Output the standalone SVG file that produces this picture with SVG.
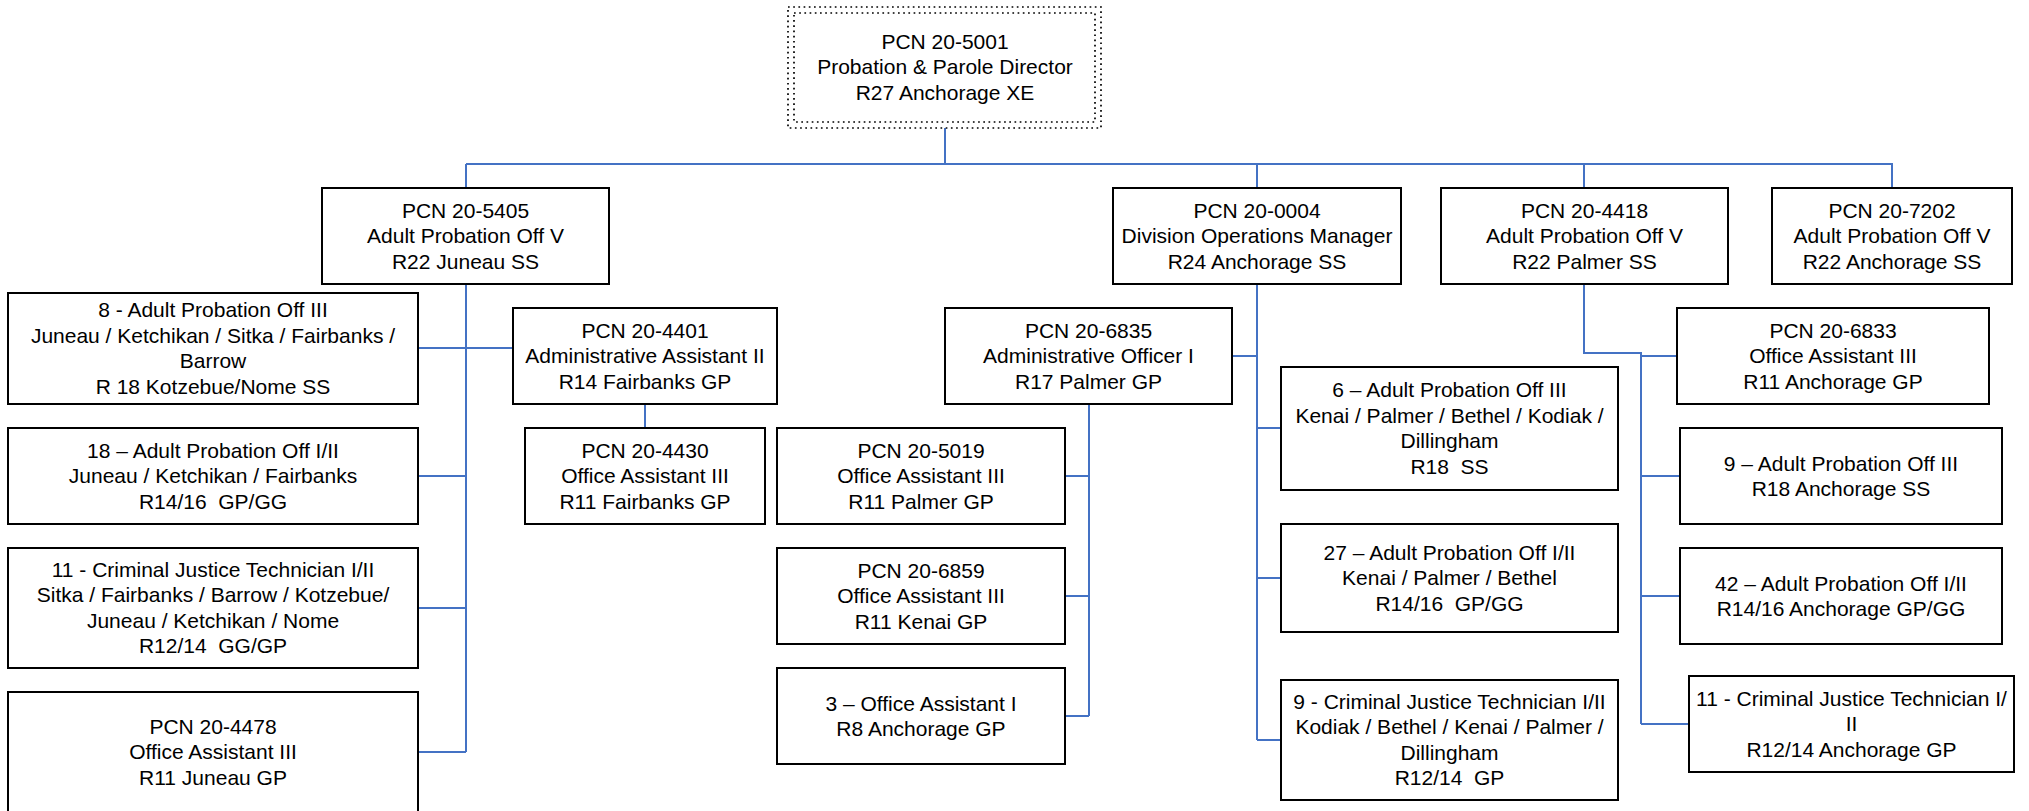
<svg xmlns="http://www.w3.org/2000/svg" width="2029" height="811" viewBox="0 0 2029 811">
<style>
.box{fill:#fff;stroke:#000;stroke-width:2}
.dot{fill:none;stroke:#000;stroke-width:1.7;stroke-dasharray:1.7 3.5}
.t{font-family:"Liberation Sans",Arial,sans-serif;font-size:21px;fill:#000;text-anchor:middle;white-space:pre}
.c{fill:none;stroke:#4472C4;stroke-width:2}
</style>
<rect width="2029" height="811" fill="#fff"/>
<g id="connectors">
<path class="c" d="M945 128V164M466 164H1893M466 164V188M1257 164V188M1584 164V188M1892 164V188"/>
<path class="c" d="M466 284V752M418 348H513M418 476H466M418 608H466M418 752H466M645 404V428"/>
<path class="c" d="M1089 404V716M1065 476H1089M1065 596H1089M1065 716H1089"/>
<path class="c" d="M1257 284V740M1232 356H1257M1257 428H1281M1257 578H1281M1257 740H1281"/>
<path class="c" d="M1584 284V353H1641V724M1641 356H1677M1641 476H1680M1641 596H1680M1641 724H1689"/>
</g>
<g id="n5001">
<rect x="788" y="7" width="313" height="121" fill="#fff"/>
<rect class="dot" x="788" y="7" width="313" height="121"/>
<rect class="dot" x="794" y="13" width="301" height="109"/>
<text class="t" x="945" y="49">PCN 20-5001</text>
<text class="t" x="945" y="74">Probation &amp; Parole Director</text>
<text class="t" x="945" y="100">R27 Anchorage XE</text>
</g>
<g id="n5405">
<rect class="box" x="322" y="188" width="287" height="96"/>
<text class="t" x="465.5" y="217.5">PCN 20-5405</text>
<text class="t" x="465.5" y="243">Adult Probation Off V</text>
<text class="t" x="465.5" y="268.5">R22 Juneau SS</text>
</g>
<g id="n0004">
<rect class="box" x="1113" y="188" width="288" height="96"/>
<text class="t" x="1257" y="217.5">PCN 20-0004</text>
<text class="t" x="1257" y="243">Division Operations Manager</text>
<text class="t" x="1257" y="268.5">R24 Anchorage SS</text>
</g>
<g id="n4418">
<rect class="box" x="1441" y="188" width="287" height="96"/>
<text class="t" x="1584.5" y="217.5">PCN 20-4418</text>
<text class="t" x="1584.5" y="243">Adult Probation Off V</text>
<text class="t" x="1584.5" y="268.5">R22 Palmer SS</text>
</g>
<g id="n7202">
<rect class="box" x="1772" y="188" width="240" height="96"/>
<text class="t" x="1892" y="217.5">PCN 20-7202</text>
<text class="t" x="1892" y="243">Adult Probation Off V</text>
<text class="t" x="1892" y="268.5">R22 Anchorage SS</text>
</g>
<g id="n8apo3">
<rect class="box" x="8" y="293" width="410" height="111"/>
<text class="t" x="213" y="317">8 - Adult Probation Off III</text>
<text class="t" x="213" y="343">Juneau / Ketchikan / Sitka / Fairbanks /</text>
<text class="t" x="213" y="368">Barrow</text>
<text class="t" x="213" y="394">R 18 Kotzebue/Nome SS</text>
</g>
<g id="n4401">
<rect class="box" x="513" y="308" width="264" height="96"/>
<text class="t" x="645" y="337.5">PCN 20-4401</text>
<text class="t" x="645" y="363">Administrative Assistant II</text>
<text class="t" x="645" y="388.5">R14 Fairbanks GP</text>
</g>
<g id="n4430">
<rect class="box" x="525" y="428" width="240" height="96"/>
<text class="t" x="645" y="457.5">PCN 20-4430</text>
<text class="t" x="645" y="483">Office Assistant III</text>
<text class="t" x="645" y="508.5">R11 Fairbanks GP</text>
</g>
<g id="n18apo">
<rect class="box" x="8" y="428" width="410" height="96"/>
<text class="t" x="213" y="457.5">18 – Adult Probation Off I/II</text>
<text class="t" x="213" y="483">Juneau / Ketchikan / Fairbanks</text>
<text class="t" x="213" y="508.5" xml:space="preserve">R14/16  GP/GG</text>
</g>
<g id="n11cjtLeft">
<rect class="box" x="8" y="548" width="410" height="120"/>
<text class="t" x="213" y="577">11 - Criminal Justice Technician I/II</text>
<text class="t" x="213" y="602">Sitka / Fairbanks / Barrow / Kotzebue/</text>
<text class="t" x="213" y="628">Juneau / Ketchikan / Nome</text>
<text class="t" x="213" y="653" xml:space="preserve">R12/14  GG/GP</text>
</g>
<g id="n4478">
<rect class="box" x="8" y="692" width="410" height="120"/>
<text class="t" x="213" y="733.5">PCN 20-4478</text>
<text class="t" x="213" y="759">Office Assistant III</text>
<text class="t" x="213" y="784.5">R11 Juneau GP</text>
</g>
<g id="n6835">
<rect class="box" x="945" y="308" width="287" height="96"/>
<text class="t" x="1088.5" y="337.5">PCN 20-6835</text>
<text class="t" x="1088.5" y="363">Administrative Officer I</text>
<text class="t" x="1088.5" y="388.5">R17 Palmer GP</text>
</g>
<g id="n5019">
<rect class="box" x="777" y="428" width="288" height="96"/>
<text class="t" x="921" y="457.5">PCN 20-5019</text>
<text class="t" x="921" y="483">Office Assistant III</text>
<text class="t" x="921" y="508.5">R11 Palmer GP</text>
</g>
<g id="n6859">
<rect class="box" x="777" y="548" width="288" height="96"/>
<text class="t" x="921" y="577.5">PCN 20-6859</text>
<text class="t" x="921" y="603">Office Assistant III</text>
<text class="t" x="921" y="628.5">R11 Kenai GP</text>
</g>
<g id="n3oa1">
<rect class="box" x="777" y="668" width="288" height="96"/>
<text class="t" x="921" y="710.5">3 – Office Assistant I</text>
<text class="t" x="921" y="736">R8 Anchorage GP</text>
</g>
<g id="n6apo3">
<rect class="box" x="1281" y="367" width="337" height="123"/>
<text class="t" x="1449.5" y="397">6 – Adult Probation Off III</text>
<text class="t" x="1449.5" y="422.5">Kenai / Palmer / Bethel / Kodiak /</text>
<text class="t" x="1449.5" y="448">Dillingham</text>
<text class="t" x="1449.5" y="473.5" xml:space="preserve">R18  SS</text>
</g>
<g id="n27apo">
<rect class="box" x="1281" y="524" width="337" height="108"/>
<text class="t" x="1449.5" y="559.5">27 – Adult Probation Off I/II</text>
<text class="t" x="1449.5" y="585">Kenai / Palmer / Bethel</text>
<text class="t" x="1449.5" y="610.5" xml:space="preserve">R14/16  GP/GG</text>
</g>
<g id="n9cjt">
<rect class="box" x="1281" y="680" width="337" height="120"/>
<text class="t" x="1449.5" y="709">9 - Criminal Justice Technician I/II</text>
<text class="t" x="1449.5" y="734">Kodiak / Bethel / Kenai / Palmer /</text>
<text class="t" x="1449.5" y="760">Dillingham</text>
<text class="t" x="1449.5" y="785" xml:space="preserve">R12/14  GP</text>
</g>
<g id="n6833">
<rect class="box" x="1677" y="308" width="312" height="96"/>
<text class="t" x="1833" y="337.5">PCN 20-6833</text>
<text class="t" x="1833" y="363">Office Assistant III</text>
<text class="t" x="1833" y="388.5">R11 Anchorage GP</text>
</g>
<g id="n9apo3">
<rect class="box" x="1680" y="428" width="322" height="96"/>
<text class="t" x="1841" y="470.5">9 – Adult Probation Off III</text>
<text class="t" x="1841" y="496">R18 Anchorage SS</text>
</g>
<g id="n42apo">
<rect class="box" x="1680" y="548" width="322" height="96"/>
<text class="t" x="1841" y="590.5">42 – Adult Probation Off I/II</text>
<text class="t" x="1841" y="616">R14/16 Anchorage GP/GG</text>
</g>
<g id="n11cjtRight">
<rect class="box" x="1689" y="676" width="325" height="96"/>
<text class="t" x="1851.5" y="705.5">11 - Criminal Justice Technician I/</text>
<text class="t" x="1851.5" y="731">II</text>
<text class="t" x="1851.5" y="756.5">R12/14 Anchorage GP</text>
</g>
</svg>
